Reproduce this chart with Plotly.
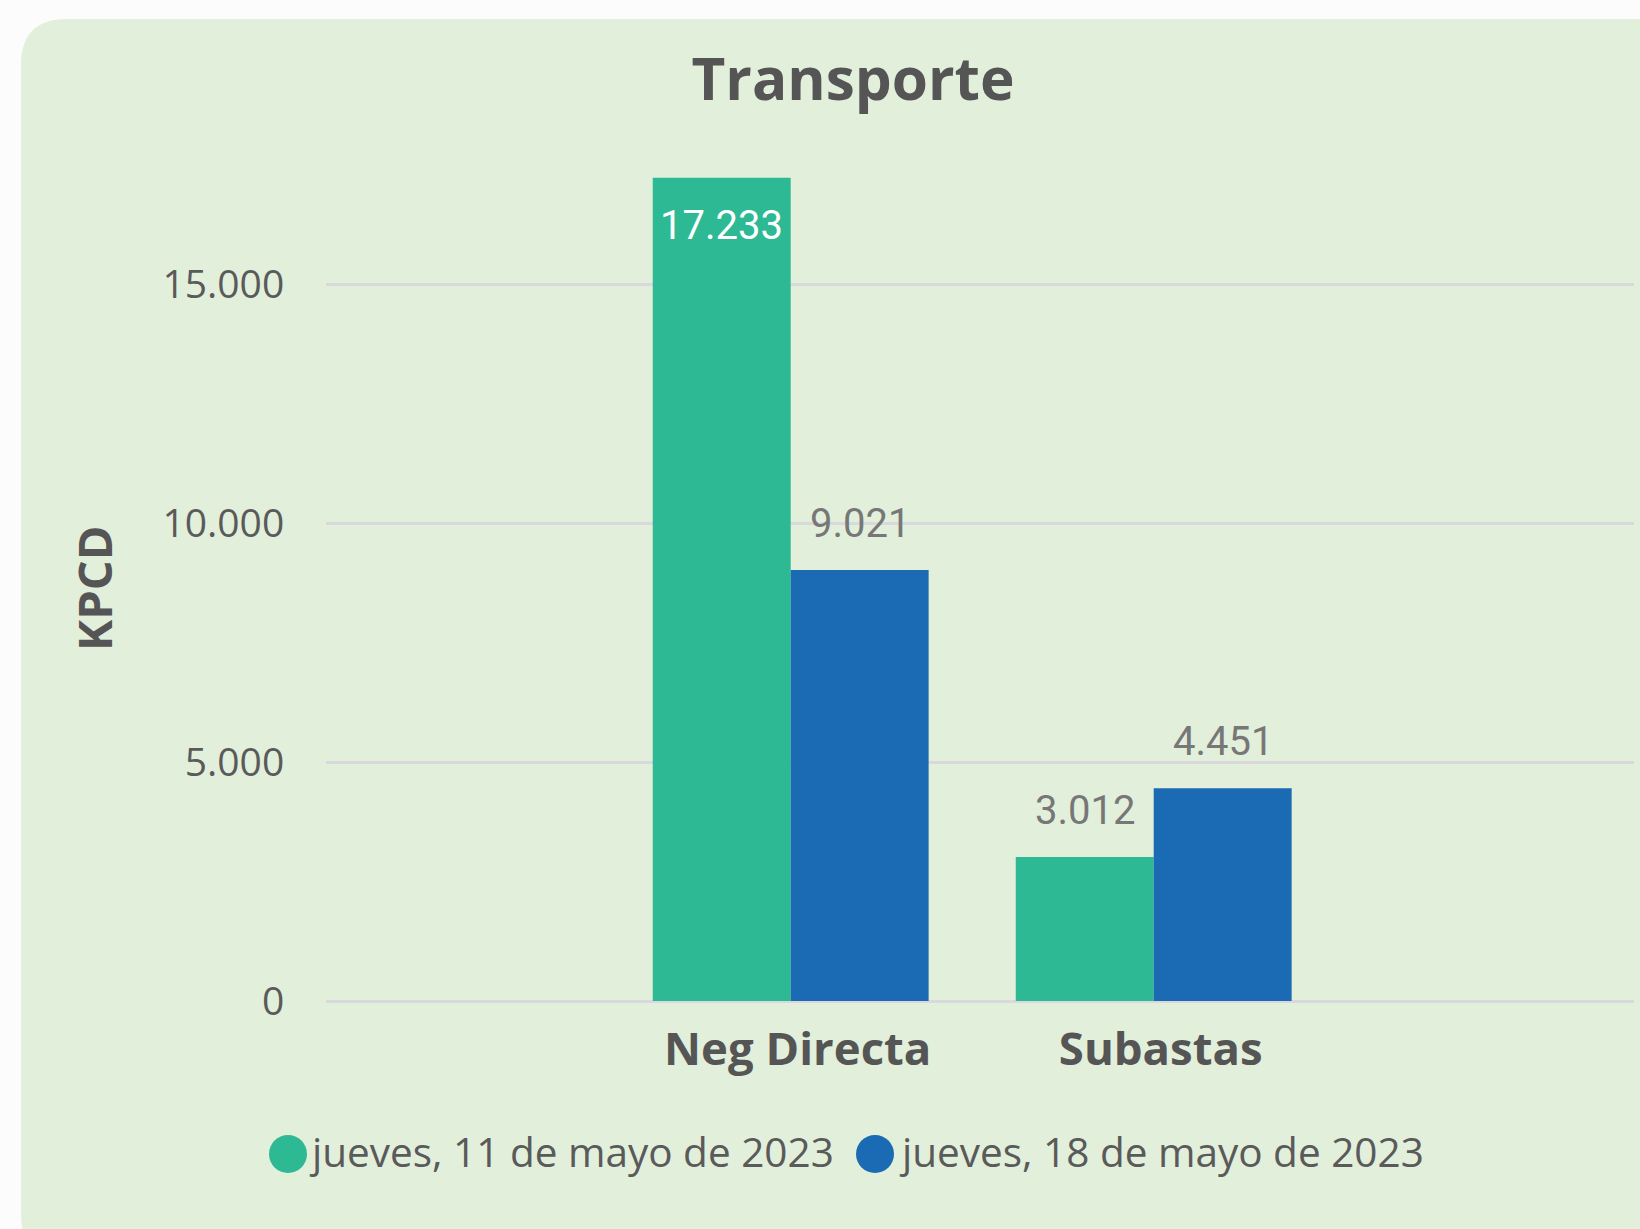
import plotly.graph_objects as go

# ---------------- data ----------------
categories = ["Neg Directa", "Subastas"]
series_names = ["jueves, 11 de mayo de 2023", "jueves, 18 de mayo de 2023"]
values_may11 = [17233, 3012]
values_may18 = [9021, 4451]
series_colors = ["#2CB993", "#1A6BB3"]
y_ticks = [0, 5000, 10000, 15000]
y_tick_labels = ["0", "5.000", "10.000", "15.000"]
title_text = "Transporte"
y_title = "KPCD"

series_values = [values_may11, values_may18]

# ---------------- layout geometry ----------------
W, H = 1640, 1229
ML, MR, MT, MB = 326, 6, 141, 228
PW = W - ML - MR
PH = H - MT - MB
Y_MAX = 18000
BARGAP = 0.24


def fx(px):
    return (px - ML) / PW


def fy(py):
    return (H - MB - py) / PH


fig = go.Figure()
for name, vals, col in zip(series_names, series_values, series_colors):
    fig.add_trace(go.Bar(
        x=categories, y=vals, name=name,
        marker=dict(color=col, line=dict(width=0)),
        showlegend=False, hoverinfo="x+y+name",
    ))

# data labels (positioned through the axes)
half = (1 - BARGAP) / 4
offsets = [-half, half]
annotations = []
for s, vals in enumerate(series_values):
    for i, v in enumerate(vals):
        inside = v > 0.9 * Y_MAX
        annotations.append(dict(
            x=i + offsets[s], y=v, xref="x", yref="y",
            text=f"{v:,}".replace(",", "."),
            showarrow=False, xanchor="center", yanchor="middle",
            yshift=-48 if inside else 47,
            font=dict(family="Roboto", size=40,
                      color="#FFFFFF" if inside else "#777777"),
        ))

# y-axis title
annotations.append(dict(
    x=fx(94), y=fy(589), xref="paper", yref="paper", text=y_title,
    showarrow=False, textangle=-90, xanchor="center", yanchor="middle",
    font=dict(family="Open Sans", size=47, color="#555555", weight="bold"),
))

# custom legend (large circles)
legend_circle_cx = [288, 875]
legend_text_x = [307, 897]
legend_cy = 1151
rad = 19
shapes = []
for k, (name, col) in enumerate(zip(series_names, series_colors)):
    cx = legend_circle_cx[k]
    shapes.append(dict(
        type="circle", xref="paper", yref="paper",
        x0=fx(cx - rad), x1=fx(cx + rad), y0=fy(legend_cy + 3 + rad), y1=fy(legend_cy + 3 - rad),
        fillcolor=col, line=dict(width=0), layer="above",
    ))
    annotations.append(dict(
        x=fx(legend_text_x[k]), y=fy(legend_cy), xref="paper", yref="paper",
        text=name, showarrow=False, xanchor="left", yanchor="middle",
        font=dict(family="Open Sans", size=40.5, color="#5A5A5A"),
    ))

# rounded card background
cx0, cx1, cy0, cy1, r = 21, 1700, 19, 1260, 46


def P(px, py):
    return f"{fx(px):.6f},{fy(py):.6f}"


card_path = (
    f"M {P(cx0 + r, cy0)} L {P(cx1 - r, cy0)} Q {P(cx1, cy0)} {P(cx1, cy0 + r)} "
    f"L {P(cx1, cy1 - r)} Q {P(cx1, cy1)} {P(cx1 - r, cy1)} "
    f"L {P(cx0 + r, cy1)} Q {P(cx0, cy1)} {P(cx0, cy1 - r)} "
    f"L {P(cx0, cy0 + r)} Q {P(cx0, cy0)} {P(cx0 + r, cy0)} Z"
)
shapes.insert(0, dict(type="path", xref="paper", yref="paper", path=card_path,
                      fillcolor="#E2EFDA", line=dict(width=0), layer="below"))

fig.update_layout(
    width=W, height=H,
    margin=dict(l=ML, r=MR, t=MT, b=MB, pad=0),
    paper_bgcolor="#FBFCFB",
    plot_bgcolor="rgba(0,0,0,0)",
    barmode="group", bargap=BARGAP, bargroupgap=0,
    separators=",.",
    title=dict(text=title_text, x=853 / W, xref="container", xanchor="center",
               y=1 - 80 / H, yref="container", yanchor="middle",
               font=dict(family="Open Sans", size=58.5, color="#555555", weight="bold")),
    xaxis=dict(
        range=[-1.28, 2.323], showgrid=False, zeroline=False, showline=False,
        ticks="outside", ticklen=8, tickcolor="rgba(0,0,0,0)", ticklabelshift=7,
        tickfont=dict(family="Open Sans", size=45.5, color="#555555", weight="bold"),
        fixedrange=True,
    ),
    yaxis=dict(
        range=[0, Y_MAX], tickvals=y_ticks, ticktext=y_tick_labels,
        showgrid=True, gridcolor="#D9D9DD", gridwidth=3,
        zeroline=True, zerolinecolor="#D9D9DD", zerolinewidth=3,
        showline=False, ticks="outside", ticklen=33, tickcolor="rgba(0,0,0,0)",
        tickfont=dict(family="Open Sans", size=39, color="#5A5A5A"),
        fixedrange=True,
    ),
    shapes=shapes,
    annotations=annotations,
)

fig.write_html("out.html", config={"displayModeBar": False},
               post_script="document.body.style.margin='0';document.body.style.overflow='hidden';")
